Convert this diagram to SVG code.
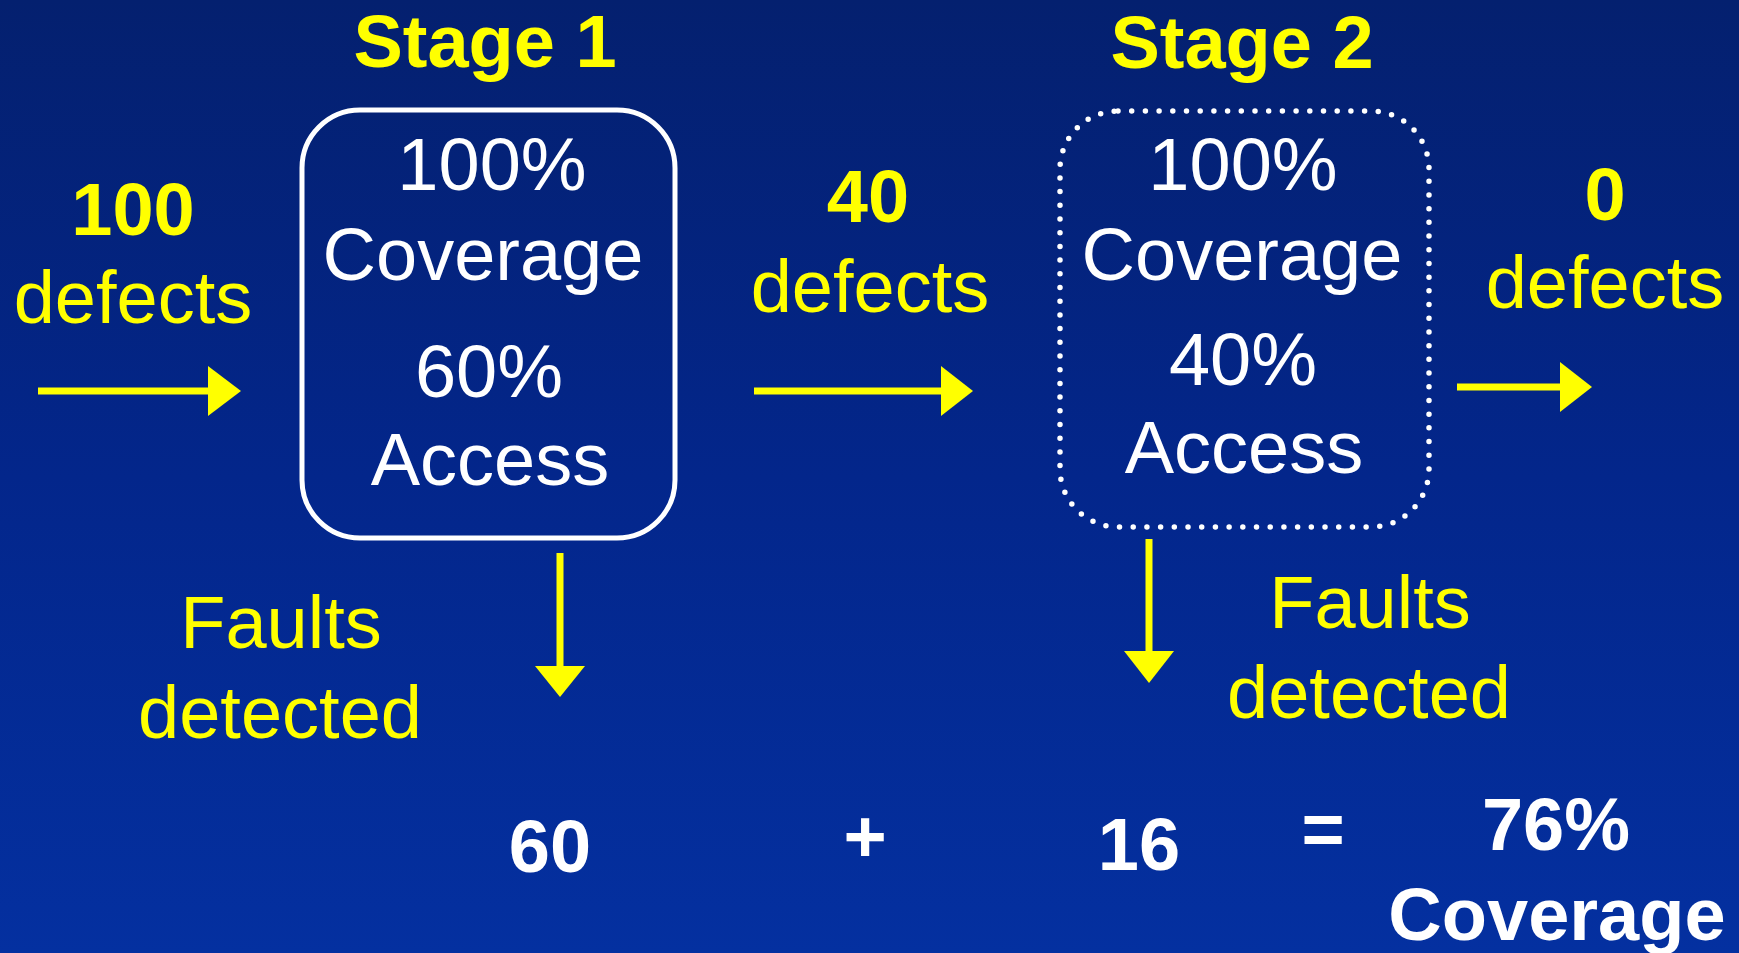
<svg xmlns="http://www.w3.org/2000/svg" width="1739" height="953" viewBox="0 0 1739 953">
<defs>
<linearGradient id="bg" x1="0" y1="0" x2="0" y2="1">
<stop offset="0" stop-color="#04206f"/>
<stop offset="0.5" stop-color="#03268b"/>
<stop offset="1" stop-color="#0430a0"/>
</linearGradient>
<style>
text{font-family:"Liberation Sans",Arial,sans-serif;text-anchor:middle;font-size:74px}
.y{fill:#ffff00}
.w{fill:#ffffff}
.b{font-weight:bold}
.ln{stroke:#ffff00;stroke-width:7;fill:none}
.hd{fill:#ffff00}
</style>
</defs>
<rect width="1739" height="953" fill="url(#bg)"/>
<g id="title1"><text class="y b" x="485" y="67">Stage 1</text></g>
<g id="title2"><text class="y b" x="1242" y="68">Stage 2</text></g>
<g id="stage1">
<rect x="302" y="110" width="373" height="428" rx="58" fill="none" stroke="#ffffff" stroke-width="5"/>
<text class="w" x="492" y="190">100%</text>
<text class="w" x="483" y="280">Coverage</text>
<text class="w" x="489" y="397">60%</text>
<text class="w" x="490" y="485">Access</text>
</g>
<g id="stage2">
<rect x="1060" y="111" width="369" height="416" rx="58" fill="none" stroke="#ffffff" stroke-width="5.5" stroke-linecap="round" stroke-dasharray="0 13.7"/>
<text class="w" x="1243" y="190">100%</text>
<text class="w" x="1242" y="280">Coverage</text>
<text class="w" x="1243" y="385">40%</text>
<text class="w" x="1244" y="473">Access</text>
</g>
<g id="in-label"><text class="y b" x="133" y="235">100</text><text class="y" x="133" y="323">defects</text></g>
<g id="mid-label"><text class="y b" x="868" y="222">40</text><text class="y" x="870" y="312">defects</text></g>
<g id="out-label"><text class="y b" x="1605" y="220">0</text><text class="y" x="1605" y="308">defects</text></g>
<g id="faults1"><text class="y" x="281" y="648">Faults</text><text class="y" x="280" y="738">detected</text></g>
<g id="faults2"><text class="y" x="1370" y="628">Faults</text><text class="y" x="1369" y="718">detected</text></g>
<g id="sum">
<text class="w b" x="550" y="872">60</text>
<text class="w b" x="865" y="862">+</text>
<text class="w b" x="1139" y="870">16</text>
<text class="w b" x="1323" y="855">=</text>
<text class="w b" x="1556" y="850">76%</text>
<text class="w b" x="1557" y="940">Coverage</text>
</g>
<g id="connectors">
<line class="ln" x1="38" y1="391" x2="210" y2="391"/><polygon class="hd" points="208,366 241,391 208,416"/>
<line class="ln" x1="754" y1="391" x2="943" y2="391"/><polygon class="hd" points="941,366 973,391 941,416"/>
<line class="ln" x1="1457" y1="387" x2="1562" y2="387"/><polygon class="hd" points="1560,362 1592,387 1560,412"/>
<line class="ln" x1="560" y1="553" x2="560" y2="668"/><polygon class="hd" points="535,666 585,666 560,697"/>
<line class="ln" x1="1149" y1="539" x2="1149" y2="653"/><polygon class="hd" points="1124,651 1174,651 1149,683"/>
</g>
</svg>
